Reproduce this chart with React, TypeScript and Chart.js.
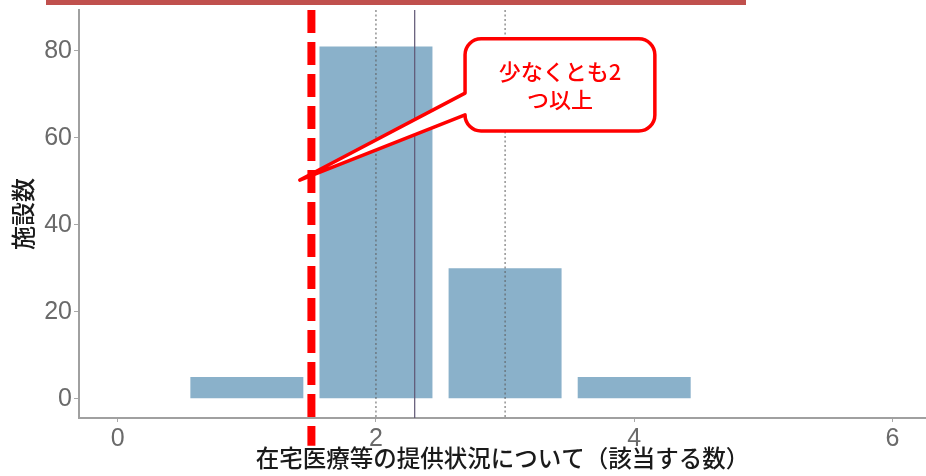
import { useEffect, useRef } from 'react';
import { Chart, registerables } from 'chart.js';

Chart.register(...registerables);

// ---- data ----
const CATEGORIES = [1, 2, 3, 4];
const COUNTS = [5, 81, 30, 5];
const X_TICKS = [0, 2, 4, 6];
const Y_TICKS = [0, 20, 40, 60, 80];
const X_MIN = -0.3;
const X_MAX = 6.26;
const Y_MIN = -4.4;
const Y_MAX = 89.4;
const DOTTED_LINES = [2, 3];
const MEAN_LINE = 2.3;
const THRESHOLD = 1.5;
const THRESHOLD_BOTTOM = -10.8;
const CALLOUT_TEXT = ['少なくとも2', 'つ以上'];
const CALLOUT_BOX = [2.69, 4.16, 82.8, 61.6]; // x0, x1, yTop, yBottom
const CALLOUT_TIP = [1.41, 50.3];
const CALLOUT_BASE = [70.3, 65.3];
const X_TITLE = '在宅医療等の提供状況について（該当する数）';
const Y_TITLE = '施設数';

const JP = '"Noto Sans CJK JP", "Noto Sans", sans-serif';
const NUM = '"Liberation Sans", Arial, sans-serif';

const calloutPlugin = {
  id: 'callout',
  afterDraw(chart: any) {
    const { ctx } = chart;
    const xs = chart.scales.x;
    const ys = chart.scales.y;
    const x0 = xs.getPixelForValue(CALLOUT_BOX[0]);
    const x1 = xs.getPixelForValue(CALLOUT_BOX[1]);
    const y0 = ys.getPixelForValue(CALLOUT_BOX[2]);
    const y1 = ys.getPixelForValue(CALLOUT_BOX[3]);
    const tx = xs.getPixelForValue(CALLOUT_TIP[0]);
    const ty = ys.getPixelForValue(CALLOUT_TIP[1]);
    const bUp = ys.getPixelForValue(CALLOUT_BASE[0]);
    const bLo = ys.getPixelForValue(CALLOUT_BASE[1]);
    const r = 16;
    ctx.save();
    ctx.beginPath();
    ctx.moveTo(x0 + r, y0);
    ctx.lineTo(x1 - r, y0);
    ctx.arcTo(x1, y0, x1, y0 + r, r);
    ctx.lineTo(x1, y1 - r);
    ctx.arcTo(x1, y1, x1 - r, y1, r);
    ctx.lineTo(x0 + r, y1);
    ctx.arcTo(x0, y1, x0, y1 - r, r);
    ctx.lineTo(x0, bLo);
    ctx.lineTo(tx, ty);
    ctx.lineTo(x0, bUp);
    ctx.lineTo(x0, y0 + r);
    ctx.arcTo(x0, y0, x0 + r, y0, r);
    ctx.closePath();
    ctx.fillStyle = '#ffffff';
    ctx.fill();
    ctx.lineWidth = 3.5;
    ctx.lineJoin = 'round';
    ctx.strokeStyle = '#ff0000';
    ctx.stroke();
    ctx.fillStyle = '#ff0000';
    ctx.font = '500 22px ' + JP;
    ctx.textAlign = 'center';
    ctx.textBaseline = 'middle';
    const cx = (x0 + x1) / 2;
    const cy = (y0 + y1) / 2;
    ctx.fillText(CALLOUT_TEXT[0], cx, cy - 13);
    ctx.fillText(CALLOUT_TEXT[1], cx, cy + 15);
    ctx.restore();
  },
};

export default function App() {
  const ref = useRef<HTMLCanvasElement>(null);
  useEffect(() => {
    if (!ref.current) return;
    const vline = (x: number, color: string, dash: number[], width: number) => ({
      type: 'line' as const,
      data: [
        { x, y: Y_MAX },
        { x, y: Y_MIN },
      ],
      borderColor: color,
      borderWidth: width,
      borderDash: dash,
      pointRadius: 0,
      fill: false,
      order: 0,
    });
    const chart = new Chart(ref.current, {
      type: 'bar',
      data: {
        datasets: [
          {
            type: 'bar',
            data: CATEGORIES.map((x, i) => ({ x, y: COUNTS[i] })),
            backgroundColor: '#8ab1ca',
            categoryPercentage: 1,
            barPercentage: 0.875,
            order: 10,
          } as any,
          ...DOTTED_LINES.map((v) => vline(v, '#5c5c5c', [2, 2.5], 1)),
          vline(MEAN_LINE, '#5e5673', [], 1.2),
          {
            type: 'line',
            data: [
              { x: THRESHOLD, y: Y_MAX },
              { x: THRESHOLD, y: THRESHOLD_BOTTOM },
            ],
            borderColor: '#ff0000',
            borderWidth: 8,
            borderDash: [23, 9],
            borderCapStyle: 'butt',
            pointRadius: 0,
            fill: false,
            clip: false,
            order: 0,
          } as any,
        ],
      },
      options: {
        responsive: false,
        animation: false,
        devicePixelRatio: 1,
        layout: { padding: { top: 10, left: 0, right: 0, bottom: 0 } },
        plugins: { legend: { display: false }, tooltip: { enabled: false } },
        scales: {
          x: {
            type: 'linear',
            min: X_MIN,
            max: X_MAX,
            offset: false,
            afterBuildTicks: (s: any) => {
              s.ticks = X_TICKS.map((v) => ({ value: v }));
            },
            afterFit: (s: any) => {
              s.height = 58;
              s.paddingLeft = 0;
              s.paddingRight = 0;
            },
            grid: { drawOnChartArea: false, drawTicks: true, tickLength: 4, color: '#a8a8a8', offset: false },
            border: { display: true, color: '#a0a0a0', width: 2 },
            ticks: { color: '#6a6a6a', font: { family: NUM, size: 25 }, padding: 2, maxRotation: 0 },
            title: {
              display: true,
              text: X_TITLE,
              color: '#1a1a1a',
              font: { family: JP, size: 23.5, weight: '500' },
              padding: { top: 0, bottom: 4 },
            },
          },
          y: {
            type: 'linear',
            min: Y_MIN,
            max: Y_MAX,
            afterBuildTicks: (s: any) => {
              s.ticks = Y_TICKS.map((v) => ({ value: v }));
            },
            afterFit: (s: any) => {
              s.width = 79;
              s.paddingTop = 0;
              s.paddingBottom = 0;
            },
            grid: { drawOnChartArea: false, drawTicks: true, tickLength: 5, color: '#a8a8a8' },
            border: { display: true, color: '#a0a0a0', width: 2 },
            ticks: { color: '#6a6a6a', font: { family: NUM, size: 25 }, padding: 2 },
            title: {
              display: true,
              text: Y_TITLE,
              color: '#1a1a1a',
              font: { family: JP, size: 24, weight: '500' },
              padding: { top: 8, bottom: 0 },
            },
          },
        },
      } as any,
      plugins: [calloutPlugin],
    });
    return () => chart.destroy();
  }, []);

  return (
    <div style={{ position: 'absolute', left: 0, top: 0, width: 926, height: 476, background: '#fff', overflow: 'hidden' }}>
      <canvas ref={ref} width={926} height={476} style={{ display: 'block' }} />
      <div style={{ position: 'absolute', left: 46, top: 0, width: 700, height: 5, background: '#c0504d' }} />
    </div>
  );
}
